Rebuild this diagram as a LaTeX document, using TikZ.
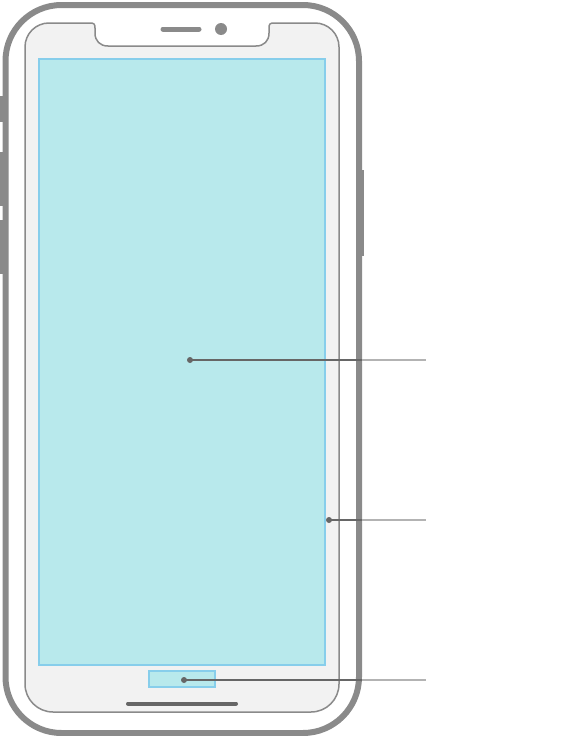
\documentclass[tikz,border=0pt]{standalone}
\usepackage{tikz}
\definecolor{BodyGray}{RGB}{138, 138, 138}
\definecolor{BezelFill}{RGB}{242, 242, 242}
\definecolor{ScreenFill}{RGB}{184, 233, 236}
\definecolor{ScreenEdge}{RGB}{135, 206, 235}
\definecolor{LeadDark}{RGB}{102, 102, 102}
\definecolor{LeadLight}{RGB}{179, 179, 179}
\tikzset{
  body/.style={draw=BodyGray, line width=6pt, fill=white, rounded corners=56pt},
  bezel/.style={draw=BodyGray, line width=1.5pt, fill=BezelFill},
  screenarea/.style={draw=ScreenEdge, line width=1.5pt, fill=ScreenFill},
  leaddark/.style={draw=LeadDark, line width=1.8pt},
  leadlight/.style={draw=LeadLight, line width=1.8pt}
}

\begin{document}
\begin{tikzpicture}[x=1pt, y=-1pt]
    \useasboundingbox (0,0) rectangle (577,736);

    % Side buttons
    \foreach \ya/\yb in {96/122, 152/206, 220/274} {
      \fill[BodyGray] (0,\ya) rectangle (6,\yb);
    }
    \fill[BodyGray] (358,170) rectangle (364,256);

    % Phone body
    \draw[body] (5.5,5) rectangle (359,733);

    % Bezel with notch
    \draw[bezel] (25,47) .. controls (25,33.75) and (35.75,23) .. (49,23) -- (90,23)
      .. controls (94,23) and (95,24) .. (95,28) -- (95,33)
      .. controls (95,41) and (100,46) .. (108,46) -- (256,46)
      .. controls (264,46) and (269,41) .. (269,33) -- (269,28)
      .. controls (269,24) and (270,23) .. (274,23) -- (315,23)
      .. controls (328.25,23) and (339,33.75) .. (339,47) -- (339,684)
      .. controls (339,699.46) and (326.46,712) .. (311,712) -- (53,712)
      .. controls (37.54,712) and (25,699.46) .. (25,684) -- cycle;

    % Speaker and camera
    \draw[BodyGray, line width=5pt, line cap=round] (163,29) -- (199,29);
    \fill[BodyGray] (221,29) circle (6pt);

    % Screen and home indicator area
    \draw[screenarea] (39,59) rectangle (325,665);
    \draw[screenarea] (149,671) rectangle (215,687);
    \draw[LeadDark, line width=4pt, line cap=round] (128,703.5) -- (236,703.5);

    % Callout leads
    \foreach \name/\px/\py in {screen/190/360, edge/329/520, home/184/680} {
      \coordinate (\name-dot) at (\px,\py);
      \coordinate (\name-out) at (362,\py);
      \coordinate (\name-end) at (426,\py);
      \draw[leaddark] (\name-dot) -- (\name-out);
      \draw[leadlight] (\name-out) -- (\name-end);
      \fill[LeadDark] (\name-dot) circle (3pt);
    }
\end{tikzpicture}
\end{document}
